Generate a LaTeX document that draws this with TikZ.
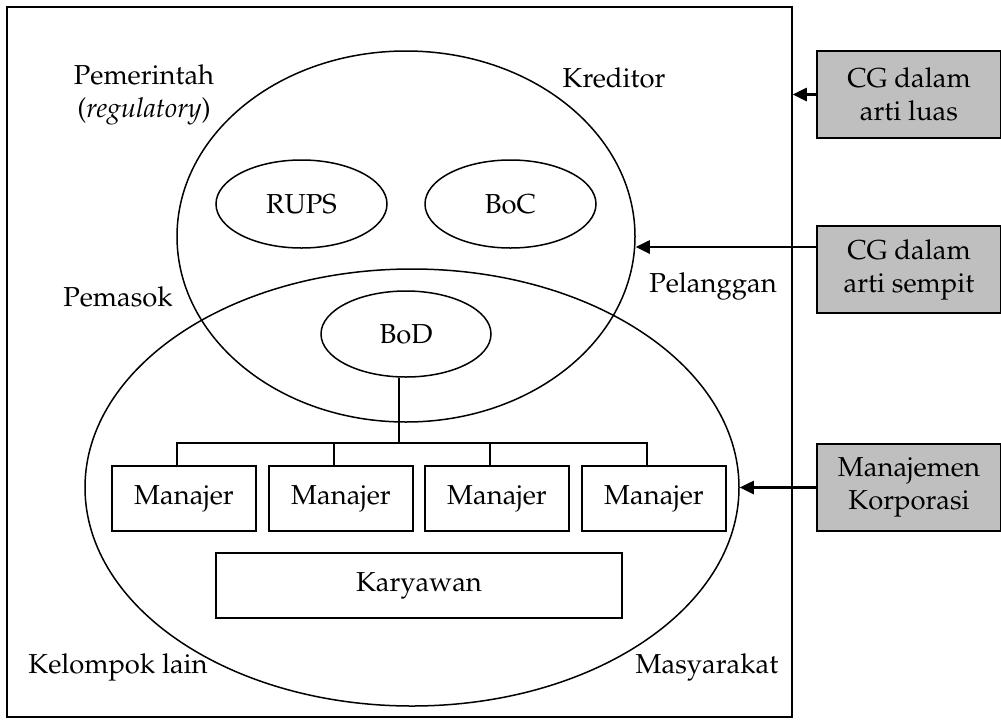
\documentclass[tikz,border=0pt]{standalone}
\usepackage[T1]{fontenc}
\usepackage{mathpazo}
\usetikzlibrary{shapes.geometric,arrows.meta}
\tikzset{
  lw/.style={line width=0.75pt},
  ell/.style={draw,lw,ellipse,inner sep=0pt},
  boxx/.style={draw,lw,rectangle,inner sep=0pt,minimum width=72pt,minimum height=32.5pt},
  gbox/.style={draw,line width=1pt,rectangle,fill=black!25,inner sep=0pt,minimum width=92pt,minimum height=43.5pt,align=center},
  lbl/.style={inner sep=0pt,align=center},
  arr/.style={line width=1.3pt,-{Triangle[length=7pt,width=6.5pt]}}
}
\begin{document}
\begin{tikzpicture}[x=0.5pt,y=-0.5pt,font=\fontsize{13.7}{16.5}\selectfont]
\useasboundingbox (0,0) rectangle (1001,724);
\node[draw,lw,inner sep=0pt,minimum width=392.5pt,minimum height=355pt] (outer) at (399.5,362) {};
\node[ell,minimum width=229pt,minimum height=185.5pt] (up) at (406,236.5) {};
\node[ell,minimum width=327pt,minimum height=218.5pt] (low) at (412,487.5) {};
\node[ell,minimum width=85.5pt,minimum height=44pt] (rups) at (301.5,204) {RUPS};
\node[ell,minimum width=85.5pt,minimum height=44pt] (boc) at (510.5,204) {BoC};
\node[ell,minimum width=85pt,minimum height=43pt] (bod) at (406,334) {BoD};
\node[boxx] (m1) at (184,498.5) {Manajer};
\node[boxx] (m2) at (341,498.5) {Manajer};
\node[boxx] (m3) at (497,498.5) {Manajer};
\node[boxx] (m4) at (654,498.5) {Manajer};
\node[draw,lw,inner sep=0pt,minimum width=203pt,minimum height=32.5pt] (kar) at (419,585.5) {Karyawan};
\coordinate (bus) at (399,443);
\draw[lw] ([xshift=-3.5pt]bod.south) -- (bus);
\draw[lw] ([xshift=-3.5pt]m1.north) |- (bus) -| ([xshift=-3.5pt]m4.north);
\draw[lw] ([xshift=-3.5pt]m2.north) -- ([xshift=-3.5pt]m2.north |- bus);
\draw[lw] ([xshift=-3.5pt]m3.north) -- ([xshift=-3.5pt]m3.north |- bus);
\node[lbl] (pem) at (144,95) {Pemerintah\\(\textit{regulatory})};
\node[lbl] (kred) at (614,78) {Kreditor};
\node[lbl] (pmsk) at (118,297) {Pemasok};
\node[lbl] (plg) at (713,286) {Pelanggan};
\node[lbl] (kel) at (118,667) {Kelompok lain};
\node[lbl] (mas) at (707,667) {Masyarakat};
\node[gbox] (g1) at (909,94.5) {CG dalam\\arti luas};
\node[gbox] (g2) at (909,269.5) {CG dalam\\arti sempit};
\node[gbox] (g3) at (909,487.5) {Manajemen\\Korporasi};
\coordinate (a2) at (817,247);
\draw[arr] (g1.west) -- (outer.east |- g1.west);
\draw[arr] (a2) -- (up.east |- a2);
\draw[arr] (g3.west) -- (low.east |- g3.west);
\end{tikzpicture}
\end{document}
